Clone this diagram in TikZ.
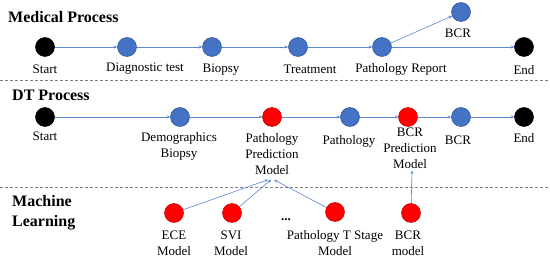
\documentclass[tikz,border=0pt]{standalone}
\usepackage{fontspec}
\setmainfont{Liberation Serif}
\usetikzlibrary{arrows.meta}
\definecolor{cblue}{HTML}{4472C4}
\definecolor{cblueedge}{HTML}{2F528F}
\definecolor{cred}{HTML}{FF0000}
\definecolor{crededge}{HTML}{C00000}
\definecolor{cline}{HTML}{5A86CF}
\definecolor{cdash}{HTML}{808080}
\tikzset{
  dot/.style={circle, minimum size=19pt, inner sep=0pt, line width=0.5pt},
  bdot/.style={dot, fill=cblue, draw=cblueedge},
  rdot/.style={dot, fill=cred, draw=crededge},
  kdot/.style={dot, fill=black, draw=black},
  lab/.style={font=\fontsize{13}{16}\selectfont, align=center, inner sep=1pt},
  ttl/.style={font=\fontsize{16}{20}\selectfont\bfseries, align=left, anchor=west, inner sep=0pt},
  conn/.style={draw=cline, line width=0.6pt, -{Stealth[length=3.5pt,width=3pt]}},
  sep/.style={draw=cdash, line width=0.9pt, dash pattern=on 3pt off 2pt},
}
\begin{document}
\begin{tikzpicture}[x=1pt,y=-1pt]
\useasboundingbox (0,0) rectangle (550,262);
% separators
\coordinate (s1a) at (0,80); \coordinate (s1b) at (550,80);
\coordinate (s2a) at (0,187); \coordinate (s2b) at (550,187);
\draw[sep] (s1a) -- (s1b);
\draw[sep] (s2a) -- (s2b);
% titles
\node[ttl] (t1) at (8,17) {Medical Process};
\node[ttl] (t2) at (12,95) {DT Process};
\node[ttl] (t3) at (12,213) {Machine\\Learning};
% medical process row
\node[kdot] (m1) at (45,47) {};
\node[bdot] (m2) at (127,47) {};
\node[bdot] (m3) at (212,47) {};
\node[bdot] (m4) at (298,47) {};
\node[bdot] (m5) at (382,47) {};
\node[kdot] (m6) at (524,47) {};
\node[bdot] (m7) at (461,12) {};
\node[lab] (lm1) at (45,69) {Start};
\node[lab] (lm2) at (145,69) {Diagnostic test};
\node[lab] (lm3) at (221,70) {Biopsy};
\node[lab] (lm4) at (310,69) {Treatment};
\node[lab] (lm5) at (401,69) {Pathology Report};
\node[lab] (lm6) at (524,70) {End};
\node[lab] (lm7) at (458,33) {BCR};
\draw[conn] (m1) -- (m2);
\draw[conn] (m2) -- (m3);
\draw[conn] (m3) -- (m4);
\draw[conn] (m4) -- (m5);
\draw[conn] (m5) -- (m6);
\draw[conn] (m5) -- (m7);
% DT process row
\node[kdot] (d1) at (45,117) {};
\node[bdot] (d2) at (180,117) {};
\node[rdot] (d3) at (272,117) {};
\node[bdot] (d4) at (350,117) {};
\node[rdot] (d5) at (408,117) {};
\node[bdot] (d6) at (461,117) {};
\node[kdot] (d7) at (524,117) {};
\node[lab] (ld1) at (45,136) {Start};
\node[lab] (ld2) at (179,146) {Demographics\\Biopsy};
\node[lab] (ld3) at (272,154) {Pathology\\Prediction\\Model};
\node[lab] (ld4) at (349,141) {Pathology};
\node[lab] (ld5) at (410,148) {BCR\\Prediction\\Model};
\node[lab] (ld6) at (458,140) {BCR};
\node[lab] (ld7) at (524,138) {End};
\draw[conn] (d1) -- (d2);
\draw[conn] (d2) -- (d3);
\draw[conn] (d3) -- (d4);
\draw[conn] (d4) -- (d5);
\draw[conn] (d5) -- (d6);
\draw[conn] (d6) -- (d7);
% machine learning row
\node[rdot] (ml1) at (174,213) {};
\node[rdot] (ml2) at (232,213) {};
\node[rdot] (ml3) at (335,212) {};
\node[rdot] (ml4) at (411,213) {};
\node[lab] (lml1) at (174,243) {ECE\\Model};
\node[lab] (lml2) at (231,243) {SVI\\Model};
\node[lab] (lml3) at (335,243) {Pathology T Stage\\Model};
\node[lab] (lml4) at (408,243) {BCR\\model};
\node[font=\fontsize{13}{16}\selectfont\bfseries, inner sep=0pt] (dots) at (286,220) {...};
\draw[conn] (ml1) -- ([xshift=-4pt,yshift=-4pt]ld3.south);
\draw[conn] (ml2) -- ([xshift=-1pt,yshift=-4pt]ld3.south);
\draw[conn] (ml3) -- ([xshift=2pt,yshift=-4pt]ld3.south);
\draw[conn] (ml4) -- ([xshift=1pt,yshift=-1pt]ld5.south -| ml4);
\end{tikzpicture}
\end{document}
